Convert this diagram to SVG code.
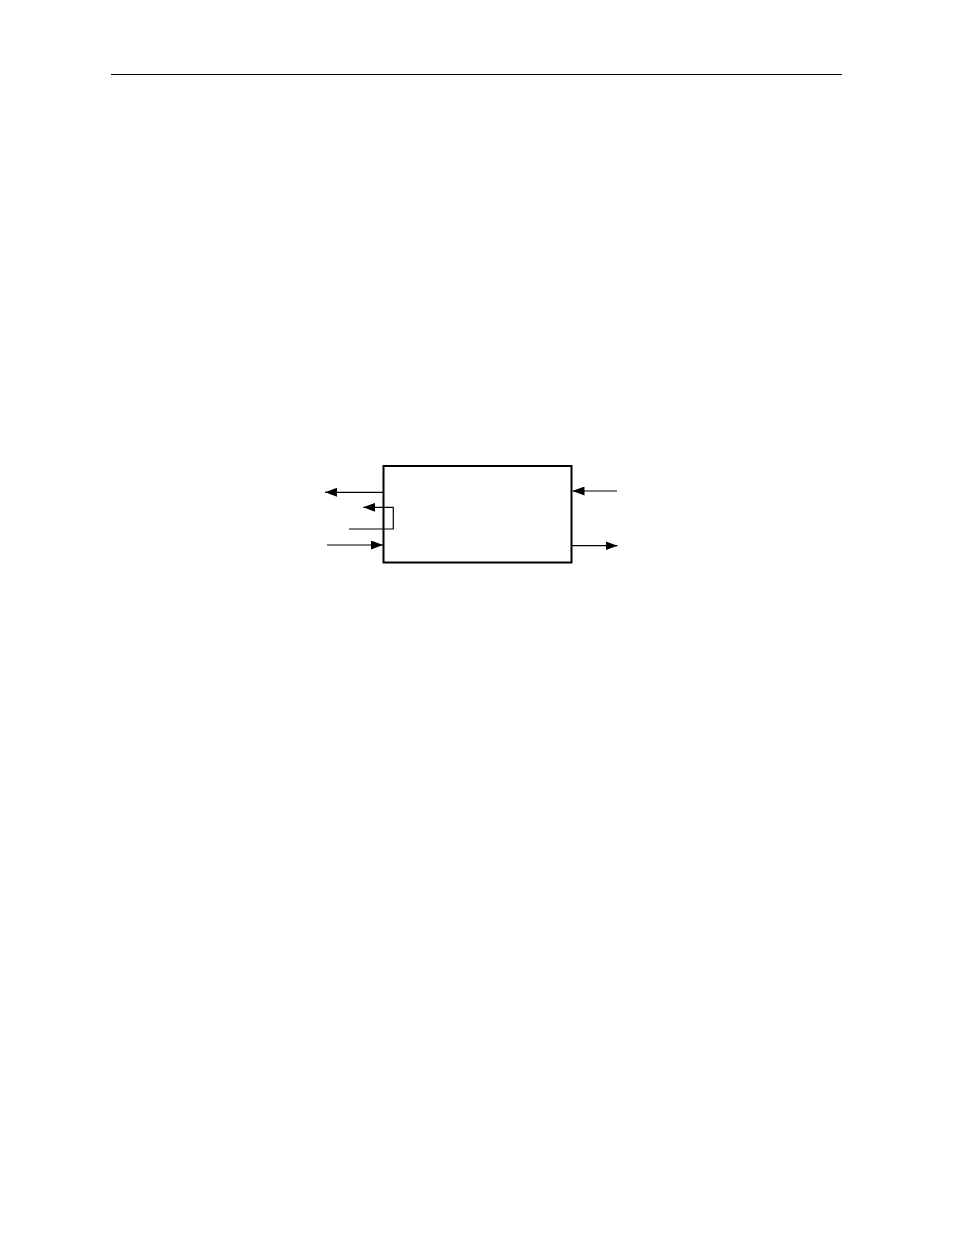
<svg xmlns="http://www.w3.org/2000/svg" width="954" height="1235" viewBox="0 0 954 1235">
<defs>
<style>
.ln{stroke:#000;stroke-width:1.2;fill:none}
.box{stroke:#000;stroke-width:2;fill:#fff}
</style>
<marker id="ah" viewBox="0 0 12 9" refX="12" refY="4.5" markerWidth="12" markerHeight="9" markerUnits="userSpaceOnUse" orient="auto">
<path d="M0,0 L12,4.5 L0,9 Z" fill="#000"/>
</marker>
</defs>
<rect width="954" height="1235" fill="#fff"/>
<line x1="111" y1="74.5" x2="842" y2="74.5" stroke="#000" stroke-width="1.2"/>
<g id="block">
<rect class="box" x="383.5" y="466" width="188" height="96.5"/>
</g>
<g id="connectors">
<line class="ln" x1="383" y1="492.3" x2="325" y2="492.3" marker-end="url(#ah)"/>
<polyline class="ln" points="349,529 393.3,529 393.3,507.3 363.3,507.3" marker-end="url(#ah)"/>
<line class="ln" x1="327" y1="545" x2="383" y2="545" marker-end="url(#ah)"/>
<line class="ln" x1="617" y1="491" x2="572.5" y2="491" marker-end="url(#ah)"/>
<line class="ln" x1="571.5" y1="545.7" x2="617.5" y2="545.7" marker-end="url(#ah)"/>
</g>
</svg>
